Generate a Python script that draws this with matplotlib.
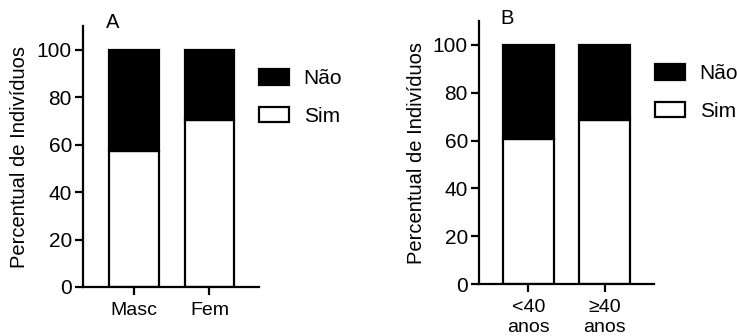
import matplotlib
matplotlib.use("Agg")
import matplotlib.pyplot as plt
from matplotlib.patches import Patch

plt.rcParams['font.family'] = ['Liberation Sans', 'DejaVu Sans']

cats_a = ["Masc", "Fem"]
sim_a = [57.5, 70.5]
nao_a = [42.5, 29.5]

cats_b = ["<40\nanos", "≥40\nanos"]
sim_b = [60.5, 68.5]
nao_b = [39.5, 31.5]

yticks = [0, 20, 40, 60, 80, 100]

W, H = 737, 336
fig = plt.figure(figsize=(W / 100, H / 100), dpi=100)

FS_Y = 15
FS_X = 14
FS_L = 14.5
FS_LEG = 15
LW = 1.6


def make_panel(px_left, px_right, px_bottom, px_top, cats, sim, nao, letter, letter_x, letter_y,
               xlim, ylabel_x, leg_xy):
    ax = fig.add_axes([px_left / W, (H - px_bottom) / H, (px_right - px_left) / W, (px_bottom - px_top) / H])
    x = list(range(len(cats)))
    ax.bar(x, sim, width=0.66, color="white", edgecolor="black", linewidth=LW)
    ax.bar(x, nao, bottom=sim, width=0.66, color="black", edgecolor="black", linewidth=LW)
    ax.set_xlim(*xlim)
    ax.set_ylim(0, 110)
    ax.set_yticks(yticks)
    ax.set_xticks(x)
    ax.set_xticklabels(cats, fontsize=FS_X, linespacing=1.2)
    ax.tick_params(axis='y', labelsize=FS_Y, length=6, width=LW, direction='out', pad=2)
    ax.tick_params(axis='x', length=6, width=LW, direction='out', pad=5)
    for s in ['top', 'right']:
        ax.spines[s].set_visible(False)
    for s in ['left', 'bottom']:
        ax.spines[s].set_linewidth(LW)
    fig.text(ylabel_x / W, 0.5 * ((H - px_bottom) + (H - px_top)) / H, "Percentual de Indivíduos",
             rotation=90, ha='center', va='center', fontsize=FS_L)
    fig.text(letter_x / W, 1 - letter_y / H, letter, fontsize=FS_L, ha='left', va='center')
    handles = [Patch(facecolor='black', edgecolor='black', linewidth=LW, label='Não'),
               Patch(facecolor='white', edgecolor='black', linewidth=LW, label='Sim')]
    fig.legend(handles=handles, loc='upper left', bbox_to_anchor=(leg_xy[0] / W, 1 - leg_xy[1] / H),
               frameon=False, fontsize=FS_LEG, handlelength=1.44, handleheight=0.77,
               labelspacing=0.9, handletextpad=0.7, borderaxespad=0, borderpad=0)
    return ax


make_panel(83, 259, 287, 26, cats_a, sim_a, nao_a, "A", 106, 22, (-0.675, 1.656), 20, (259, 69))
make_panel(479, 654, 284, 21, cats_b, sim_b, nao_b, "B", 500, 19, (-0.65, 1.65), 416, (655, 64))

fig.savefig("out.png", dpi=100)
